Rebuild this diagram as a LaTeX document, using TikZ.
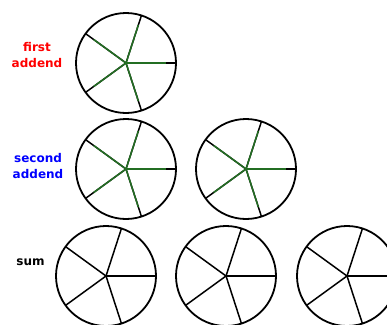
\documentclass[tikz,border=0pt]{standalone}
\usepackage{fontspec}
\setmainfont{DejaVu Sans}
\definecolor{spokegreen}{RGB}{35,110,35}
\definecolor{lblred}{RGB}{255,0,0}
\definecolor{lblblue}{RGB}{0,0,255}
\tikzset{
  rim/.style={draw=black, line width=1.8pt},
  spoke/.style={draw=black, line width=1.5pt},
  gspoke/.style={draw=spokegreen, line width=1.5pt},
  lbl/.style={font=\bfseries\fontsize{12}{16}\selectfont, align=center, inner sep=0pt},
  wheel/.pic={
    \foreach \a in {0,72,144,216,288} \draw[spoke] (0,0) -- (\a:50);
    \draw[rim] (0,0) circle[radius=50];
  },
  greenwheel/.pic={
    \foreach \a in {0,72,144,216,288} \draw[spoke] (0,0) -- (\a:50);
    \foreach \a in {0,72,144,216,288} \draw[gspoke] (0,0) -- (\a:40);
    \draw[rim] (0,0) circle[radius=50];
  }
}
\begin{document}
\begin{tikzpicture}[x=1pt,y=-1pt]
  \useasboundingbox (0,0) rectangle (387,324);
  \clip (0,0) rectangle (387,324);
  \fill[white] (0,0) rectangle (387,324);
  % first addend
  \pic at (126,63) {greenwheel};
  \node[lbl, text=lblred] (first) at (37,55.5) {first\\addend};
  % second addend
  \pic at (126,169) {greenwheel};
  \pic at (246,169) {greenwheel};
  \node[lbl, text=lblblue] (second) at (38,166) {second\\addend};
  % sum
  \pic at (106,276) {wheel};
  \pic at (226,276) {wheel};
  \pic at (347,276) {wheel};
  \node[lbl, text=black] (sum) at (30.5,262) {sum};
\end{tikzpicture}
\end{document}
